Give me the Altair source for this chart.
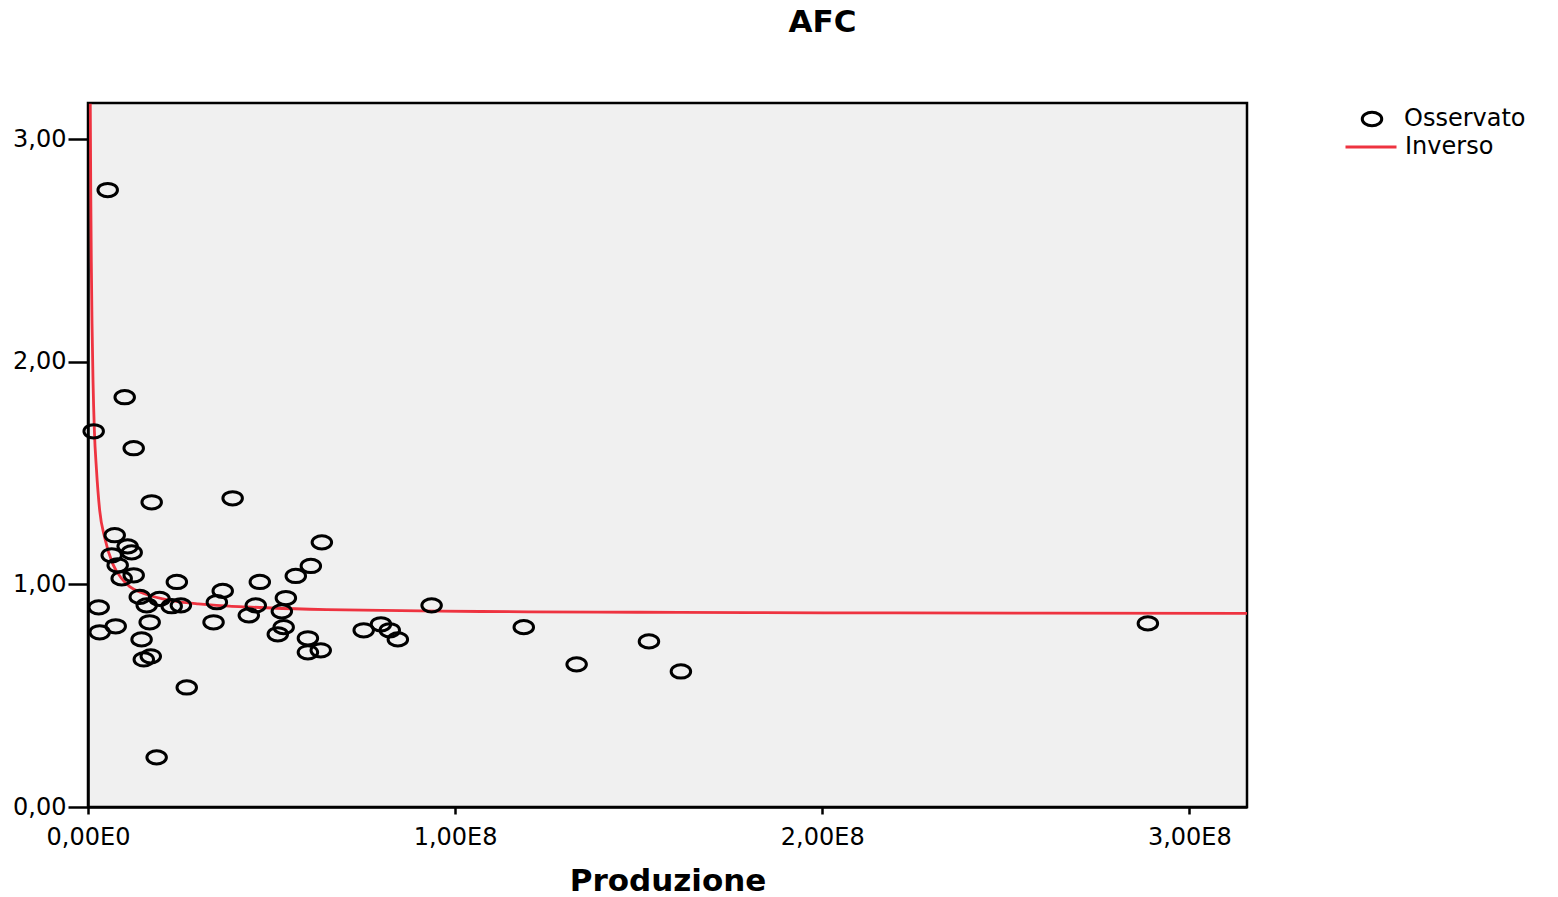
import altair as alt
import pandas as pd

# Observed points (Produzione in millions, AFC)
obs_x = [5.37, 1.55, 10.0, 12.45, 17.35, 39.4, 7.28, 10.8, 11.9, 6.46, 8.09, 12.45, 9.18,
         63.7, 60.7, 56.6, 46.8, 24.2, 36.7, 14.1, 19.5, 53.9, 2.92, 16.0, 22.8, 25.3,
         35.1, 45.7, 93.6, 52.8, 43.8, 16.8, 34.2, 7.55, 53.3, 79.8, 82.2, 75.1, 3.19,
         51.7, 84.4, 14.6, 59.9, 118.7, 152.8, 288.7, 59.9, 63.4, 133.1, 161.5, 17.1,
         15.2, 26.9, 18.7]
obs_y = [2.772, 1.688, 1.841, 1.612, 1.369, 1.387, 1.221, 1.171, 1.144, 1.131, 1.086, 1.041, 1.027,
         1.189, 1.083, 1.038, 1.011, 1.011, 0.971, 0.944, 0.935, 0.939, 0.897, 0.906, 0.902, 0.906,
         0.920, 0.906, 0.906, 0.879, 0.861, 0.830, 0.830, 0.812, 0.808, 0.821, 0.794, 0.794, 0.785,
         0.776, 0.753, 0.753, 0.758, 0.808, 0.744, 0.825, 0.695, 0.704, 0.641, 0.609, 0.677,
         0.663, 0.537, 0.223]

# Fitted inverse curve (Produzione in millions, AFC)
curve_x = [0.62, 0.75, 0.9, 1.1, 1.36, 1.74, 2.29, 3.2, 4.55, 6.81, 9.0, 11.36, 15.0,
           20.4, 25.0, 30.0, 35.0, 43.2, 50.0, 65.0, 80.0, 95.8, 120.0, 150.0, 180.0,
           220.0, 260.0, 315.7]
curve_y = [3.16, 2.77, 2.45, 2.17, 1.92, 1.69, 1.52, 1.33, 1.21, 1.09, 1.03, 0.99, 0.96,
           0.935, 0.922, 0.913, 0.906, 0.899, 0.894, 0.887, 0.883, 0.880, 0.877, 0.875, 0.873,
           0.872, 0.871, 0.870]

x_ticks = [0, 1e8, 2e8, 3e8]
y_ticks = [0, 1, 2, 3]

obs = pd.DataFrame({"Produzione": [v * 1e6 for v in obs_x], "AFC": obs_y,
                    "oss": ["Osservato"] * len(obs_x)})
fit = pd.DataFrame({"Produzione": [v * 1e6 for v in curve_x], "AFC": curve_y,
                    "inv": ["Inverso"] * len(curve_x)})

ELLIPSE = "M-1,0A1,0.68,0,1,1,1,0A1,0.68,0,1,1,-1,0Z"
FONT = "DejaVu Sans"

xscale = alt.Scale(domain=[0, 3.157e8], nice=False, zero=False)
yscale = alt.Scale(domain=[0, 3.163], nice=False, zero=False)

xaxis = alt.Axis(
    values=x_ticks,
    labelExpr="datum.value == 0 ? '0,00E0' : replace(format(datum.value / 1e8, '.2f'), '.', ',') + 'E8'",
    grid=False, tickSize=7, tickWidth=2.5, tickColor="black",
    domainColor="black", domainWidth=2.5,
    labelFont=FONT, labelFontSize=24, labelColor="black", labelPadding=11,
    labelFlush=False, labelOverlap=False,
    title="Produzione", titleFont=FONT, titleFontSize=31, titleFontWeight="bold",
    titleColor="black", titleY=83, titleBaseline="alphabetic",
)
yaxis = alt.Axis(
    values=y_ticks,
    labelExpr="replace(format(datum.value, '.2f'), '.', ',')",
    grid=False, tickSize=20, tickWidth=2.5, tickColor="black",
    domainColor="black", domainWidth=2.5,
    labelFont=FONT, labelFontSize=24, labelColor="black", labelPadding=2,
    labelOverlap=False, title=None,
)

points = alt.Chart(obs).mark_point(
    color="black", strokeWidth=3, size=380, opacity=1, filled=False
).encode(
    x=alt.X("Produzione:Q", scale=xscale, axis=xaxis),
    y=alt.Y("AFC:Q", scale=yscale, axis=yaxis),
    shape=alt.Shape(
        "oss:N",
        scale=alt.Scale(domain=["Osservato"], range=[ELLIPSE]),
        legend=alt.Legend(
            title=None, orient="none", legendX=1272, legendY=4, padding=0,
            labelFont=FONT, labelFontSize=24, labelColor="black", labelOffset=20,
            symbolSize=380, symbolStrokeWidth=3, symbolStrokeColor="black",
            symbolFillColor="transparent",
        ),
    ),
)

line = alt.Chart(fit).mark_line(
    strokeWidth=2.8, interpolate="monotone", clip=True
).encode(
    x=alt.X("Produzione:Q", scale=xscale, axis=xaxis),
    y=alt.Y("AFC:Q", scale=yscale, axis=yaxis),
    color=alt.Color(
        "inv:N",
        scale=alt.Scale(domain=["Inverso"], range=["#ee3340"]),
        legend=alt.Legend(
            title=None, orient="none", legendX=1256, legendY=17, padding=0,
            labelFont=FONT, labelFontSize=24, labelColor="black", labelOffset=7,
            symbolType="stroke", symbolSize=2601, symbolStrokeWidth=2.8,
        ),
    ),
)

chart = alt.layer(line, points).properties(
    width=1159, height=704,
    autosize=alt.AutoSizeParams(type="none"),
    padding={"left": 88, "top": 103, "right": 311, "bottom": 90},
    background="white",
    title=alt.TitleParams(
        "AFC", font=FONT, fontSize=31, fontWeight="bold", color="black",
        anchor="middle", dx=155, offset=64,
    ),
).configure_view(
    fill="#f0f0f0", stroke="black", strokeWidth=2.5
)

chart.save("out.html", embed_options={"renderer": "svg", "actions": False})
